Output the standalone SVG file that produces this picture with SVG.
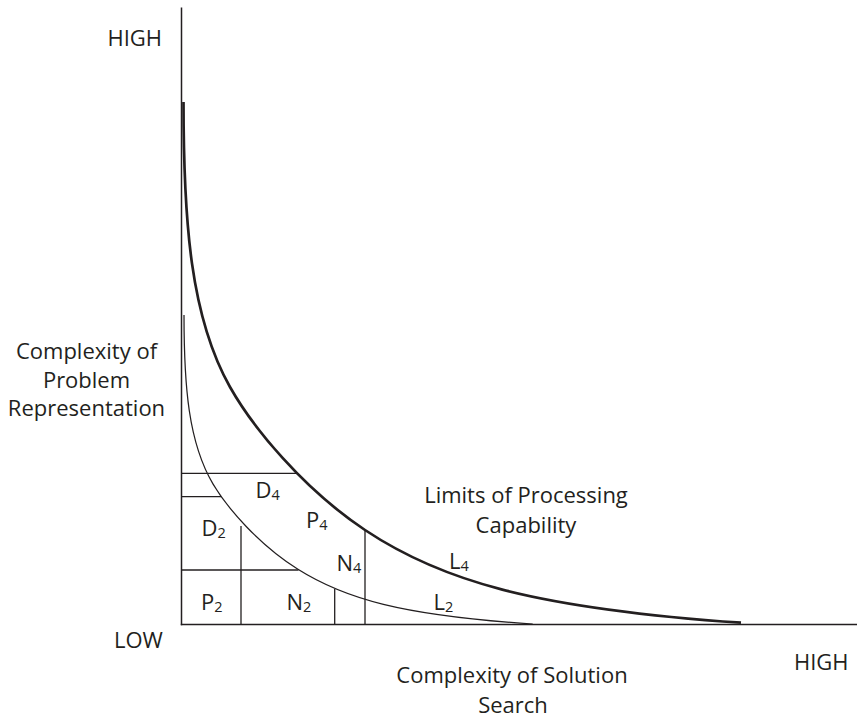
<svg xmlns="http://www.w3.org/2000/svg" width="857" height="719" viewBox="0 0 857 719">
  <style>
    .ax { stroke: #231f20; stroke-width: 1.5; fill: none; }
    .grid { stroke: #231f20; stroke-width: 1.3; fill: none; }
    .lim4 { stroke: #231f20; stroke-width: 2.7; fill: none; }
    .lim2 { stroke: #231f20; stroke-width: 1.25; fill: none; }
    text { font-family: "Open Sans", "Noto Sans", "Liberation Sans", sans-serif; font-size: 22px; fill: #231f20; }
    .sub { font-size: 14.5px; }
    .mid { text-anchor: middle; }
  </style>

  <rect width="857" height="719" fill="#ffffff"/>

  <!-- axes -->
  <g id="axes">
    <line class="ax" x1="181.5" y1="7.5" x2="181.5" y2="625.2"/>
    <line class="ax" x1="180.8" y1="624.5" x2="857" y2="624.5"/>
  </g>

  <!-- region partitions under the limit curves -->
  <g id="regions">
    <line class="grid" x1="181.5" y1="473.3" x2="296" y2="473.3"/>
    <line class="grid" x1="181.5" y1="496.7" x2="221" y2="496.7"/>
    <line class="grid" x1="181.5" y1="570" x2="298.5" y2="570"/>
    <line class="grid" x1="241" y1="526" x2="241" y2="624.5"/>
    <line class="grid" x1="334.7" y1="589" x2="334.7" y2="624.5"/>
    <line class="grid" x1="365" y1="530.5" x2="365" y2="624.5"/>
  </g>

  <!-- processing limit curves (L2 is L4 scaled towards the origin) -->
  <g id="curves">
    <path id="curve-L4" class="lim4" d="M183.5,102 C183.5,222 190.6,317.3 230,387 C252.6,427.1 302.6,488.4 365,530 C439.9,580 531,608 741,622.7"/>
    <path id="curve-L2" class="lim2" d="M184,315 C184,386.2 188.44,442.8 213.09,484.1 C227.22,507.9 258.5,544.3 297.53,569 C344.38,598.6 401.36,615.3 532.7,624"/>
  </g>

  <!-- axis labels -->
  <g id="axis-labels">
    <text x="107.5" y="46">HIGH</text>
    <text class="mid" x="86.5" y="359">Complexity of</text>
    <text class="mid" x="86.5" y="387.5">Problem</text>
    <text class="mid" x="86.5" y="416">Representation</text>
    <text x="114" y="648">LOW</text>
    <text x="794" y="670">HIGH</text>
    <text class="mid" x="512" y="683">Complexity of Solution</text>
    <text class="mid" x="513" y="713">Search</text>
  </g>

  <!-- curve and region labels -->
  <g id="region-labels">
    <text class="mid" x="526" y="503.3">Limits of Processing</text>
    <text class="mid" x="526" y="533">Capability</text>
    <text x="255.5" y="498.3">D<tspan class="sub" dy="2">4</tspan></text>
    <text x="306" y="528.3">P<tspan class="sub" dy="2">4</tspan></text>
    <text x="201.5" y="536">D<tspan class="sub" dy="2">2</tspan></text>
    <text x="336.5" y="571">N<tspan class="sub" dy="2">4</tspan></text>
    <text x="201" y="609.5">P<tspan class="sub" dy="2">2</tspan></text>
    <text x="286.5" y="609.5">N<tspan class="sub" dy="2">2</tspan></text>
    <text x="449" y="568.5">L<tspan class="sub" dy="2">4</tspan></text>
    <text x="433.5" y="609.5">L<tspan class="sub" dy="2">2</tspan></text>
  </g>
</svg>
